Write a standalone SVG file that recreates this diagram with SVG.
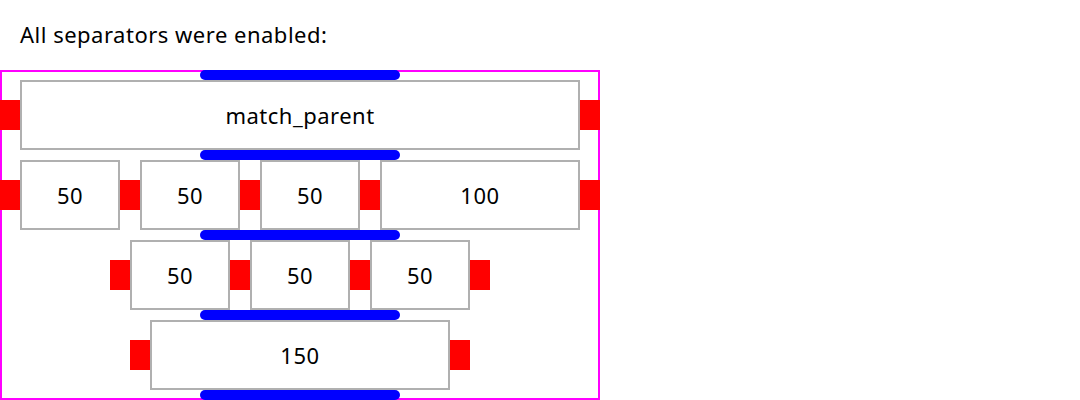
<svg xmlns="http://www.w3.org/2000/svg" width="1080" height="400" viewBox="0 0 1080 400">
<style>
.t{font-family:"Noto Sans","Open Sans",sans-serif;font-size:22px;letter-spacing:0.5px;fill:#000}
.lbl{text-anchor:middle;dominant-baseline:central}
.box{fill:#fff;stroke:#b0b0b0;stroke-width:2}
.sep{fill:#f00}
.div{fill:#00f}
</style>
<rect width="1080" height="400" fill="#fff"/>
<text class="t" x="20" y="43">All separators were enabled:</text>
<g id="frame"><rect x="1" y="71" width="598" height="328" fill="none" stroke="#f0f" stroke-width="2"/></g>
<g id="row1">
<g id="n-match"><rect class="box" x="21" y="81" width="558" height="68"/><text class="t lbl" x="300" y="115">match_parent</text></g>
</g>
<g id="row2">
<g id="n-r2a"><rect class="box" x="21" y="161" width="98" height="68"/><text class="t lbl" x="70" y="195">50</text></g>
<g id="n-r2b"><rect class="box" x="141" y="161" width="98" height="68"/><text class="t lbl" x="190" y="195">50</text></g>
<g id="n-r2c"><rect class="box" x="261" y="161" width="98" height="68"/><text class="t lbl" x="310" y="195">50</text></g>
<g id="n-r2d"><rect class="box" x="381" y="161" width="198" height="68"/><text class="t lbl" x="480" y="195">100</text></g>
</g>
<g id="row3">
<g id="n-r3a"><rect class="box" x="131" y="241" width="98" height="68"/><text class="t lbl" x="180" y="275">50</text></g>
<g id="n-r3b"><rect class="box" x="251" y="241" width="98" height="68"/><text class="t lbl" x="300" y="275">50</text></g>
<g id="n-r3c"><rect class="box" x="371" y="241" width="98" height="68"/><text class="t lbl" x="420" y="275">50</text></g>
</g>
<g id="row4">
<g id="n-r4a"><rect class="box" x="151" y="321" width="298" height="68"/><text class="t lbl" x="300" y="355">150</text></g>
</g>
<g id="separators">
<rect class="sep" x="0" y="100" width="20" height="30"/>
<rect class="sep" x="580" y="100" width="20" height="30"/>
<rect class="sep" x="0" y="180" width="20" height="30"/>
<rect class="sep" x="120" y="180" width="20" height="30"/>
<rect class="sep" x="240" y="180" width="20" height="30"/>
<rect class="sep" x="360" y="180" width="20" height="30"/>
<rect class="sep" x="580" y="180" width="20" height="30"/>
<rect class="sep" x="110" y="260" width="20" height="30"/>
<rect class="sep" x="230" y="260" width="20" height="30"/>
<rect class="sep" x="350" y="260" width="20" height="30"/>
<rect class="sep" x="470" y="260" width="20" height="30"/>
<rect class="sep" x="130" y="340" width="20" height="30"/>
<rect class="sep" x="450" y="340" width="20" height="30"/>
<rect class="div" x="200" y="70" width="200" height="10" rx="5"/>
<rect class="div" x="200" y="150" width="200" height="10" rx="5"/>
<rect class="div" x="200" y="230" width="200" height="10" rx="5"/>
<rect class="div" x="200" y="310" width="200" height="10" rx="5"/>
<rect class="div" x="200" y="390" width="200" height="10" rx="5"/>
</g>
</svg>
